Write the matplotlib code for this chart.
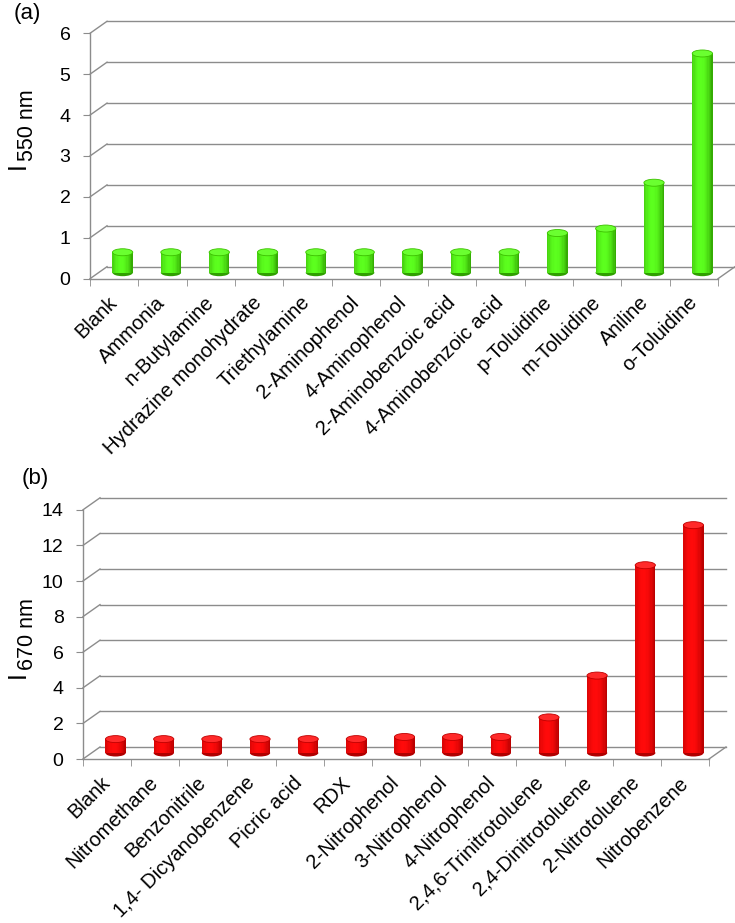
import numpy as np
import matplotlib
matplotlib.use("Agg")
import matplotlib.pyplot as plt
from matplotlib.patches import Ellipse
from matplotlib.colors import to_rgb

plt.rcParams['font.family'] = ['Liberation Sans', 'DejaVu Sans']

# panel (a): amines, I at 550 nm
amines = ['Blank', 'Ammonia', 'n-Butylamine', 'Hydrazine monohydrate',
          'Triethylamine', '2-Aminophenol', '4-Aminophenol',
          '2-Aminobenzoic acid', '4-Aminobenzoic acid', 'p-Toluidine',
          'm-Toluidine', 'Aniline', 'o-Toluidine']
i550 = [0.5, 0.5, 0.5, 0.5, 0.5, 0.5, 0.5, 0.5, 0.5, 0.97, 1.08, 2.2, 5.36]
ticks_a = [0, 1, 2, 3, 4, 5, 6]

# panel (b): nitro compounds, I at 670 nm
nitro = ['Blank', 'Nitromethane', 'Benzonitrile', '1,4- Dicyanobenzene',
         'Picric acid', 'RDX', '2-Nitrophenol', '3-Nitrophenol',
         '4-Nitrophenol', '2,4,6-Trinitrotoluene', '2,4-Dinitrotoluene',
         '2-Nitrotoluene', 'Nitrobenzene']
i670 = [0.78, 0.78, 0.78, 0.78, 0.78, 0.78, 0.9, 0.9, 0.9, 2.0, 4.35, 10.55, 12.8]
ticks_b = [0, 2, 4, 6, 8, 10, 12, 14]

W, H = 735, 923
GRID = '#8c8c8c'
DEPTH = (17, 12)     # px, back wall offset
EH = 7               # px, ellipse height of the cylinder caps


def mix(c1, c2, w):
    a, b = np.array(to_rgb(c1)), np.array(to_rgb(c2))
    return tuple(a * w + b * (1 - w))


def panel(rect, cats, vals, yticks, mid, edge, cap, capedge):
    ax = fig.add_axes(rect)
    n = len(cats)
    ax.set_xlim(-0.5, n - 0.5)
    ax.set_ylim(yticks[0], yticks[-1])
    pxx = rect[2] * W / n
    pxy = rect[3] * H / (yticks[-1] - yticks[0])
    dx, dy = DEPTH[0] / pxx, DEPTH[1] / pxy

    # back wall + side wall
    for t in yticks:
        ax.plot([-0.5 + dx, n - 0.5 + dx], [t + dy, t + dy], color=GRID,
                lw=1.0, clip_on=False, zorder=1)
        ax.plot([-0.5, -0.5 + dx], [t, t + dy], color=GRID, lw=1.0,
                clip_on=False, zorder=1)
    ax.plot([n - 0.5, n - 0.5 + dx], [0, dy], color=GRID, lw=1.0,
            clip_on=False, zorder=1)

    # cylinders at mid depth
    x = np.arange(n) + dx / 2
    base = dy / 2
    bw = 0.42
    ns = 16
    for k in range(ns):
        t = -1 + (2 * k + 1) / ns
        w = np.cos((t + 0.15) * np.pi / 2.3) ** 0.8
        ax.bar(x - bw / 2 + (k + 0.5) * bw / ns, vals, width=bw / ns * 1.08,
               bottom=base, color=mix(mid, edge, w), lw=0, zorder=3)
    eh = EH / pxy
    for xi, v in zip(x, vals):
        ax.add_patch(Ellipse((xi, base), bw, eh, facecolor=edge,
                             edgecolor='none', zorder=2.9))
        ax.add_patch(Ellipse((xi, base + v), bw, eh, facecolor=cap,
                             edgecolor=capedge, lw=0.6, zorder=3.2))

    for s in ['top', 'right']:
        ax.spines[s].set_visible(False)
    for s in ['left', 'bottom']:
        ax.spines[s].set_color(GRID)
        ax.spines[s].set_linewidth(1.0)
    ax.set_yticks(yticks)
    ax.set_yticklabels([str(t) for t in yticks], fontsize=14)
    ax.tick_params(axis='y', length=5, color=GRID, pad=9)
    ax.set_xticks(np.arange(n))
    ax.set_xticklabels(cats, rotation=45, ha='right', va='center',
                       rotation_mode='anchor', fontsize=14.5)
    ax.set_xticks(np.arange(n + 1) - 0.5, minor=True)
    ax.tick_params(axis='x', which='major', length=0, pad=15)
    ax.tick_params(axis='x', which='minor', length=5, color=GRID)
    ax.patch.set_alpha(0)
    return ax


fig = plt.figure(figsize=(W / 100, H / 100), dpi=100)

panel([90 / W, 1 - 278.7 / H, 628 / W, 245.4 / H], amines, i550, ticks_a,
      '#5cff1e', '#2f9f00', '#6aff30', '#3cc000')
panel([83 / W, 1 - 759 / H, 626 / W, 249.2 / H], nitro, i670, ticks_b,
      '#ff0a0a', '#b00000', '#ff2a2a', '#c00000')

fig.text(14 / W, 1 - 14 / H, '(a)', fontsize=16, va='center')
fig.text(22 / W, 1 - 479 / H, '(b)', fontsize=16, va='center')

for yI, ysub, sub in [(169, 161, '550 nm'), (678, 670, '670 nm')]:
    fig.text(25 / W, 1 - yI / H, 'I', fontsize=18, rotation=90,
             ha='left', va='baseline', rotation_mode='anchor')
    fig.text(33 / W, 1 - ysub / H, sub, fontsize=15.5, rotation=90,
             ha='left', va='baseline', rotation_mode='anchor')

fig.savefig('out.png', dpi=100)
